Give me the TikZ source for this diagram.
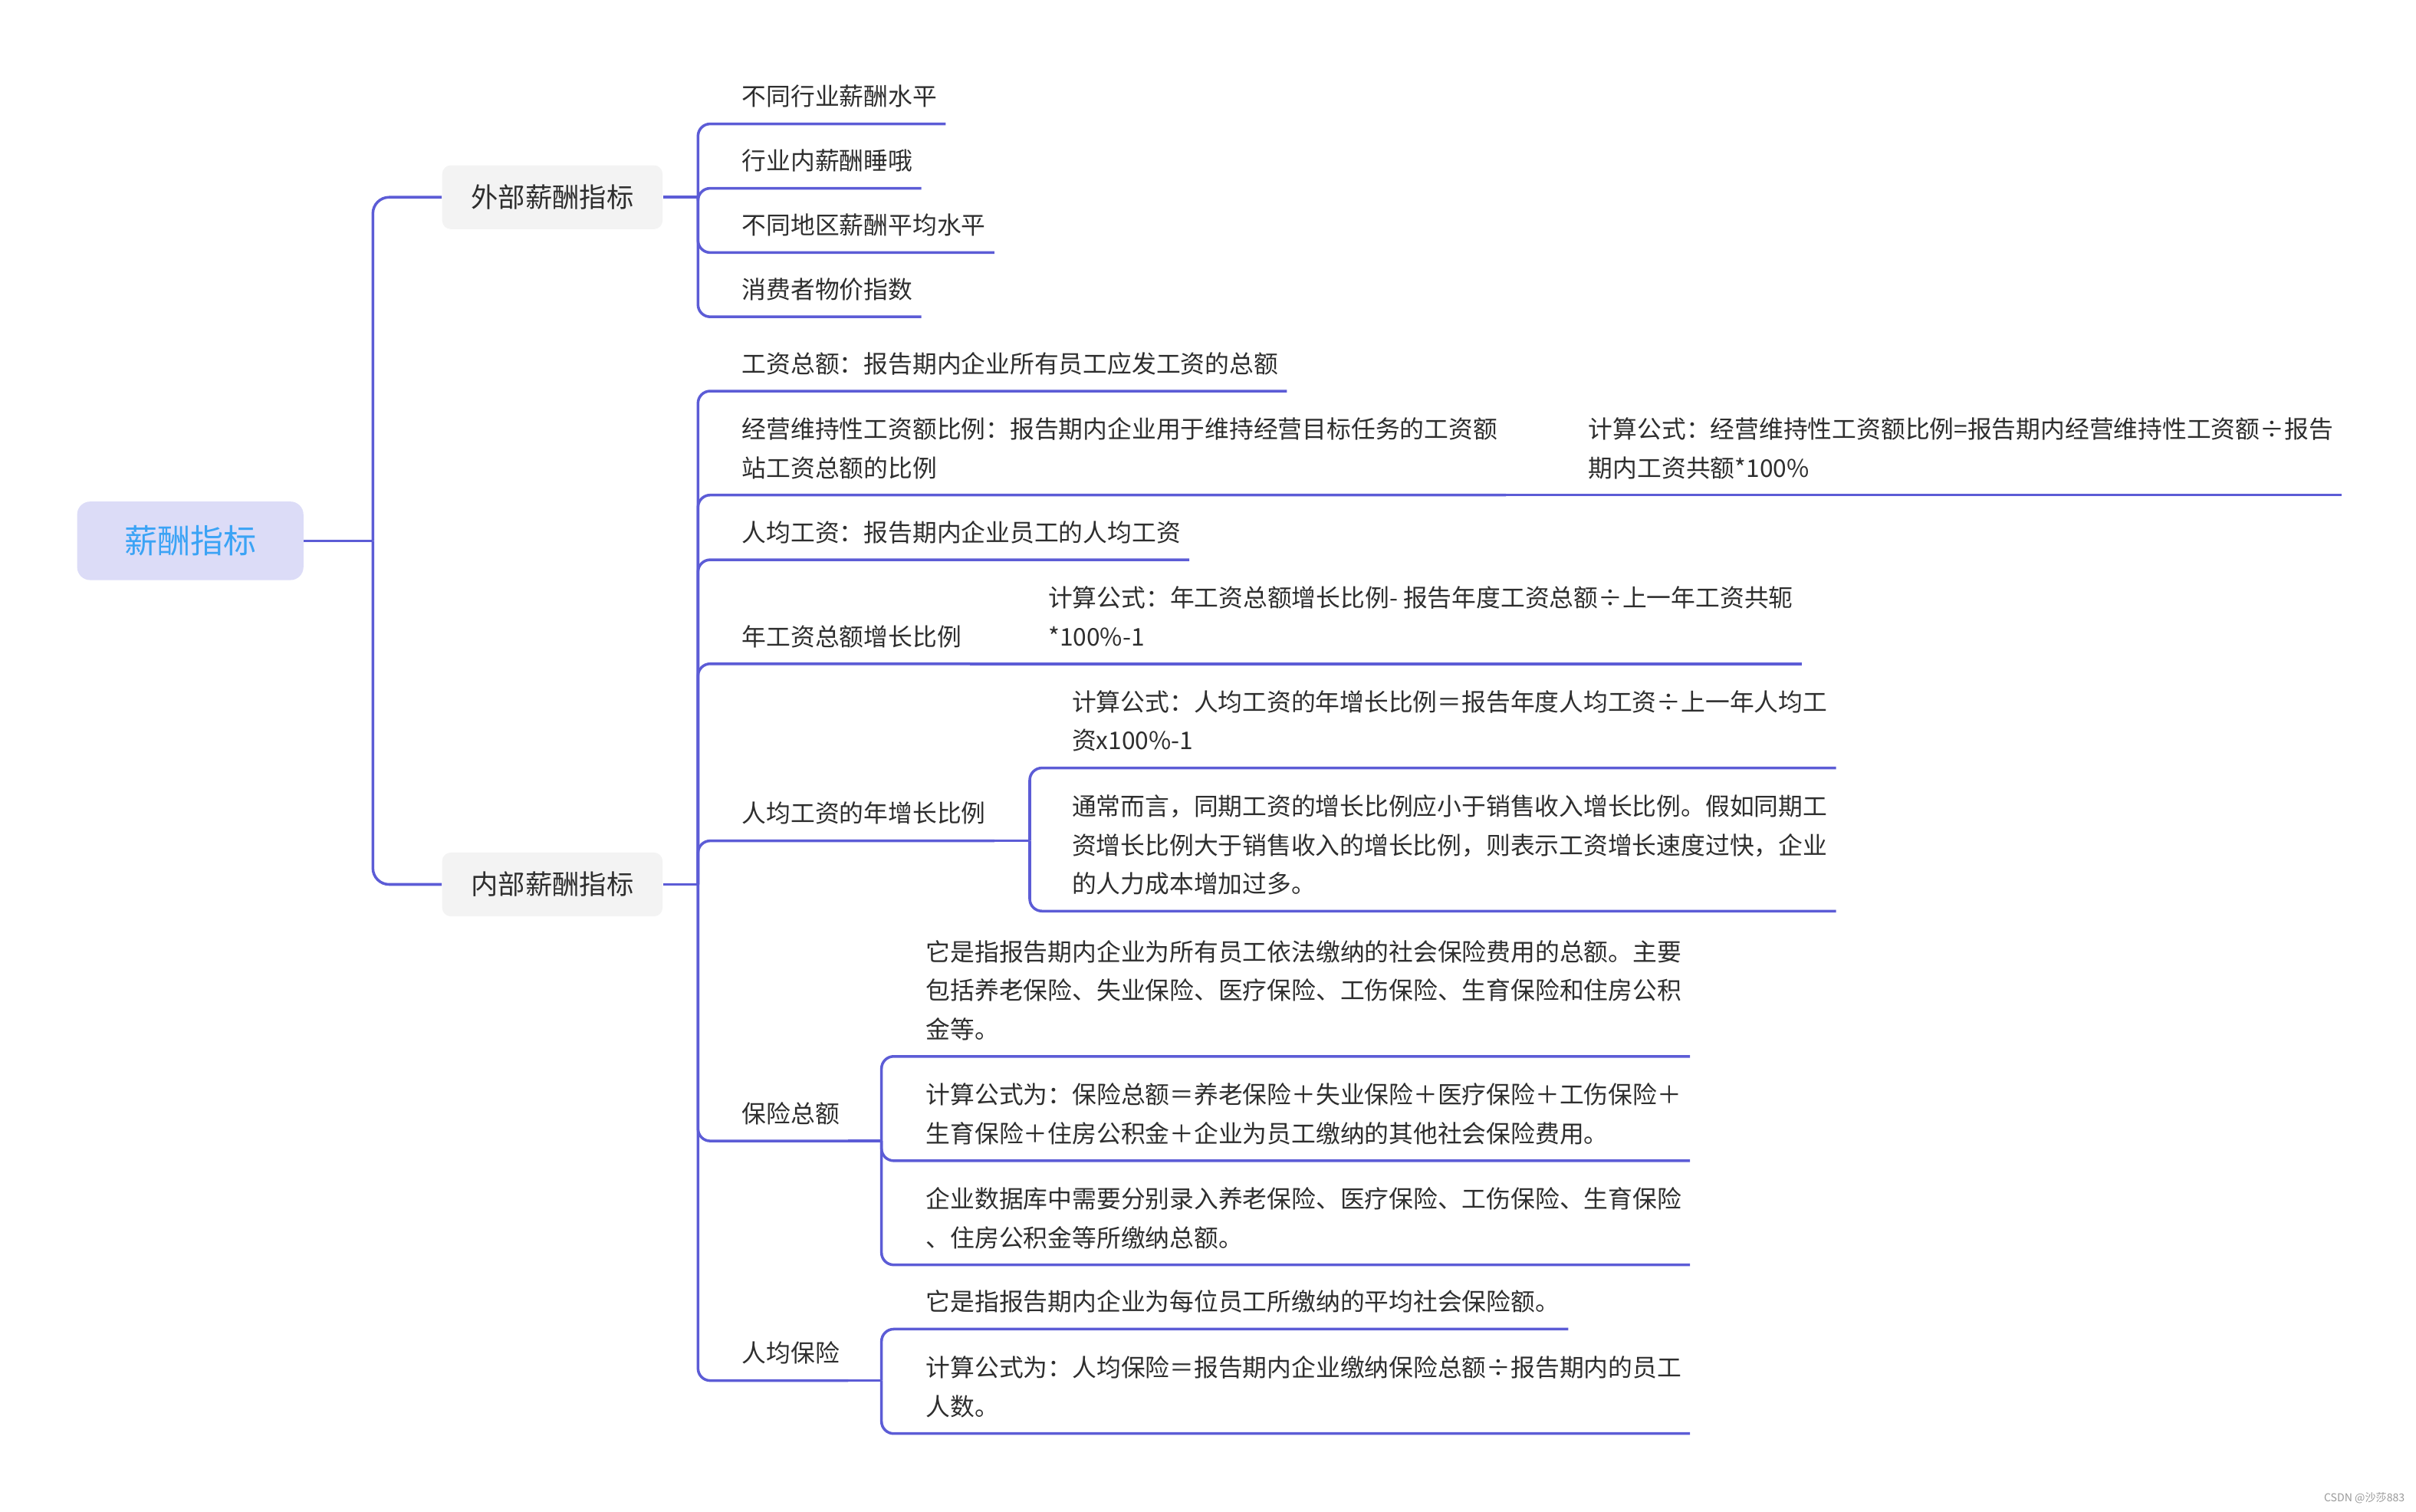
\documentclass[tikz,border=0pt]{standalone}
\usepackage{fontspec}
\setmainfont{Noto Sans CJK SC}
\definecolor{linkblue}{HTML}{5C5CD6}
\definecolor{rootfill}{HTML}{DCDCF7}
\definecolor{rootblue}{HTML}{3BA3F5}
\definecolor{boxgray}{HTML}{F3F3F3}
\definecolor{textgray}{HTML}{2E2E2E}

\begin{document}
\begin{tikzpicture}[x=0.02cm, y=-0.02cm,
    link/.style={draw=linkblue, line width=1pt, rounded corners=4.5pt},
    rootbox/.style={fill=rootfill, rounded corners=4.8pt, minimum width=83.6pt,
      minimum height=29pt, font=\fontsize{12.2}{14}\selectfont, text=rootblue},
    lvlbox/.style={fill=boxgray, rounded corners=3.2pt, minimum width=81.4pt,
      minimum height=23.6pt, font=\fontsize{10}{12}\selectfont, text=textgray},
    leaf/.style={anchor=south west, inner xsep=3pt, inner ysep=0pt, text depth=6.5pt,
      align=left, font=\fontsize{9}{14.3}\selectfont, text=textgray}]
    \useasboundingbox (0,0) rectangle (1568,981);

    % Racine et premier niveau
    \node[rootbox] (root) at (123.5,351) {薪酬指标};
    \node[lvlbox] (ext) at (358.5,128) {外部薪酬指标};
    \node[lvlbox] (int) at (358.5,574) {内部薪酬指标};

    % Points de jonction
    \coordinate (rj) at (242,351);
    \coordinate (ej) at (453,128);
    \coordinate (ij) at (453,574);
    \coordinate (ej5) at (668.3,545.7);
    \coordinate (fj) at (572.1,740.5);
    \coordinate (gj) at (572.1,896);

    % Indicateurs externes
    \node[leaf] (e1) at (476,80.4) {不同行业薪酬水平};
    \node[leaf] (e2) at (476,122.2) {行业内薪酬睡哦};
    \node[leaf] (e3) at (476,163.9) {不同地区薪酬平均水平};
    \node[leaf] (e4) at (476,205.6) {消费者物价指数};

    % Indicateurs internes
    \node[leaf] (a) at (476,253.8) {工资总额：报告期内企业所有员工应发工资的总额};
    \node[leaf] (b) at (476,321.3) {经营维持性工资额比例：报告期内企业用于维持经营目标任务的工资额\\站工资总额的比例};
    \node[leaf] (b1) at (1025.4,321.3) {计算公式：经营维持性工资额比例=报告期内经营维持性工资额÷报告\\期内工资共额*100\%};
    \node[leaf] (c) at (476,363.3) {人均工资：报告期内企业员工的人均工资};
    \node[leaf] (d) at (476,430.8) {年工资总额增长比例};
    \node[leaf] (d1) at (674.7,430.8) {计算公式：年工资总额增长比例- 报告年度工资总额÷上一年工资共轭\\*100\%-1};
    \node[leaf] (e) at (476,545.7) {人均工资的年增长比例};
    \node[leaf] (e5a) at (690.1,498.4) {计算公式：人均工资的年增长比例＝报告年度人均工资÷上一年人均工\\资x100\%-1};
    \node[leaf] (e5b) at (690.1,591.3) {通常而言，同期工资的增长比例应小于销售收入增长比例。假如同期工\\资增长比例大于销售收入的增长比例，则表示工资增长速度过快，企业\\的人力成本增加过多。};
    \node[leaf] (f) at (476,740.5) {保险总额};
    \node[leaf] (f1) at (595.4,685.6) {它是指报告期内企业为所有员工依法缴纳的社会保险费用的总额。主要\\包括养老保险、失业保险、医疗保险、工伤保险、生育保险和住房公积\\金等。};
    \node[leaf] (f2) at (595.4,753.3) {计算公式为：保险总额＝养老保险＋失业保险＋医疗保险＋工伤保险＋\\生育保险＋住房公积金＋企业为员工缴纳的其他社会保险费用。};
    \node[leaf] (f3) at (595.4,820.9) {企业数据库中需要分别录入养老保险、医疗保险、工伤保险、生育保险\\、住房公积金等所缴纳总额。};
    \node[leaf] (g) at (476,896) {人均保险};
    \node[leaf] (g1) at (595.4,862.6) {它是指报告期内企业为每位员工所缴纳的平均社会保险额。};
    \node[leaf] (g2) at (595.4,930.4) {计算公式为：人均保险＝报告期内企业缴纳保险总额÷报告期内的员工\\人数。};

    % Filigrane
    \node[anchor=east, inner sep=0pt, font=\fontsize{4}{5}\selectfont, text=black!40] (wm) at (1561,972) {CSDN @沙莎883};

    % Liens depuis la racine
    \draw[link] (root.east) -- (rj);
    \draw[link, rounded corners=6pt] (rj) |- (ext.west);
    \draw[link, rounded corners=6pt] (rj) |- (int.west);

    % Liens externes
    \draw[link] (ext.east) -- (ej);
    \foreach \n in {e1,e2,e3,e4}
        \draw[link] (ej) |- (\n.south east);

    % Liens internes
    \draw[link] (int.east) -- (ij);
    \foreach \n in {a,b,c,d,e,f,g}
        \draw[link] (ij) |- (\n.south east);
    \draw[link] (b.south east) -- (b1.south east);
    \draw[link] (d.south east) -- (d1.south east);
    \draw[link] (e.south east) -- (ej5);
    \draw[link] (ej5) |- (e5a.south east);
    \draw[link] (ej5) |- (e5b.south east);
    \draw[link] (f.south east) -- (fj);
    \foreach \n in {f1,f2,f3}
        \draw[link] (fj) |- (\n.south east);
    \draw[link] (g.south east) -- (gj);
    \foreach \n in {g1,g2}
        \draw[link] (gj) |- (\n.south east);
\end{tikzpicture}
\end{document}
